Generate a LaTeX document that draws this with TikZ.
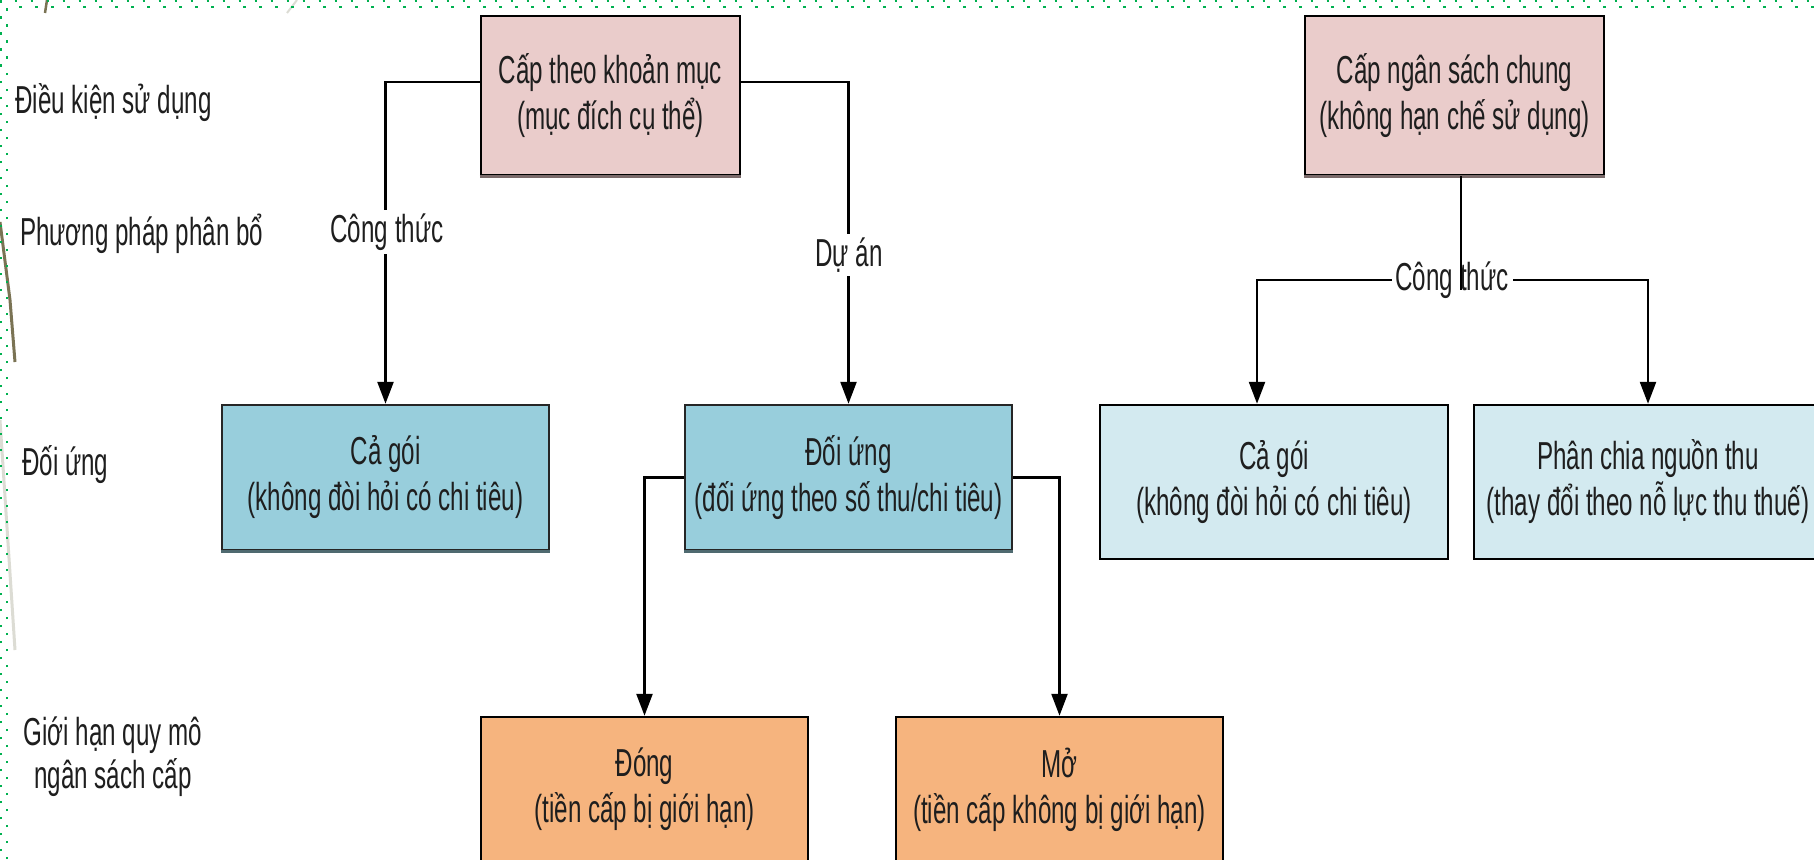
\documentclass[tikz,border=0pt]{standalone}
\usepackage{fontspec}
\setmainfont{Liberation Sans}[FakeStretch=0.62]
\usetikzlibrary{arrows.meta}
\definecolor{pinkfill}{HTML}{EACCCB}
\definecolor{bluefill}{HTML}{98CEDC}
\definecolor{lightfill}{HTML}{D3EAF0}
\definecolor{orangefill}{HTML}{F6B47E}
\definecolor{dotgreen}{HTML}{00B050}
\definecolor{txt}{HTML}{1E1E1E}
\definecolor{olivestroke}{HTML}{7A7354}
\definecolor{palestroke}{HTML}{DCDCD4}
\definecolor{pinkshade}{HTML}{7A6A6A}
\definecolor{blueshade}{HTML}{4F6A70}
\begin{document}
\begin{tikzpicture}[x=1pt,y=-1pt,
  every node/.style={font=\fontsize{39}{46}\selectfont, text=txt, inner sep=0pt},
  box/.style={draw=black, line width=2.5pt, align=center, minimum width=327pt, minimum height=145pt},
  pinkbox/.style={box, fill=pinkfill, minimum height=159pt},
  bluebox/.style={box, fill=bluefill, draw=black!85},
  lightbox/.style={box, fill=lightfill, minimum width=348pt, minimum height=154pt},
  orangebox/.style={box, fill=orangefill},
  conn/.style={line width=2.5pt, draw=black},
  arr/.style={conn, -{Triangle[length=22pt,width=16pt]}},
  lab/.style={fill=white, inner sep=4pt},
  rowlab/.style={anchor=base west},
  dots/.style={dotgreen, line width=2.5pt, dash pattern=on 2.5pt off 13.5pt}
]
\useasboundingbox (0,0) rectangle (1814,859);
\clip (0,0) rectangle (1814,859);
\fill[white] (0,0) rectangle (1814,859);

% decorative background strokes and dotted frame
\draw[olivestroke, line width=3pt] (0,222) -- (10,300) -- (15,362);
\draw[olivestroke, line width=2.5pt] (47,0) -- (45,13);
\draw[palestroke, line width=3pt] (0,420) -- (15,650);
\draw[palestroke, line width=2pt] (297,0) -- (287,13);
\draw[dots] (7,859) -- (7,7) -- (1814,7);
\draw[dots, dash phase=8pt] (0.8,859) -- (0.8,0.8) -- (1814,0.8);

% row labels
\node[rowlab] (r1) at (15,113) {Điều kiện sử dụng};
\node[rowlab] (r2) at (20,245) {Phương pháp phân bổ};
\node[rowlab] (r3) at (22,475) {Đối ứng};
\node[anchor=base] (r4a) at (113,745) {Giới hạn quy mô};
\node[anchor=base] (r4b) at (113,788) {ngân sách cấp};

% boxes
\node[pinkbox, minimum width=259pt] (top1) at (610.5,95.5) {Cấp theo khoản mục\\(mục đích cụ thể)};
\node[pinkbox, minimum width=299pt] (top2) at (1454.5,95.5) {Cấp ngân sách chung\\(không hạn chế sử dụng)};
\node[bluebox] (cg1) at (385.5,477.5) {Cả gói\\(không đòi hỏi có chi tiêu)};
\node[bluebox] (dou) at (848.5,477.5) {Đối ứng\\(đối ứng theo số thu/chi tiêu)};
\node[lightbox] (cg2) at (1274,482) {Cả gói\\(không đòi hỏi có chi tiêu)};
\node[lightbox] (pc) at (1648,482) {Phân chia nguồn thu\\(thay đổi theo nỗ lực thu thuế)};
\node[orangebox] (dong) at (644.5,789.5) {Đóng\\(tiền cấp bị giới hạn)};
\node[orangebox] (mo) at (1059.5,789.5) {Mở\\(tiền cấp không bị giới hạn)};

% bottom shading of boxes
\draw[pinkshade, line width=3pt] (top1.south west) -- (top1.south east);
\draw[pinkshade, line width=3pt] (top2.south west) -- (top2.south east);
\draw[blueshade, line width=3pt] (cg1.south west) -- (cg1.south east);
\draw[blueshade, line width=3pt] (dou.south west) -- (dou.south east);

% connectors
\draw[arr] ([yshift=13.5pt]top1.west) -| (cg1.north);
\draw[arr] ([yshift=13.5pt]top1.east) -| (dou.north);
\node[lab] (l1) at (387,232) {Công thức};
\node[lab] (l2) at (849,255) {Dự án};

\draw[arr] (dou.west) -| (dong.north);
\draw[arr] (dou.east) -| (mo.north);

\coordinate (fork) at (1461,280);
\draw[arr] (fork) -| ([xshift=-17pt]cg2.north);
\draw[arr] (fork) -| (pc.north);
\node[lab] (l3) at (1452,280) {Công thức};
\draw[conn] ([xshift=6.5pt]top2.south) -- ([yshift=-10pt]fork);
\end{tikzpicture}
\end{document}
